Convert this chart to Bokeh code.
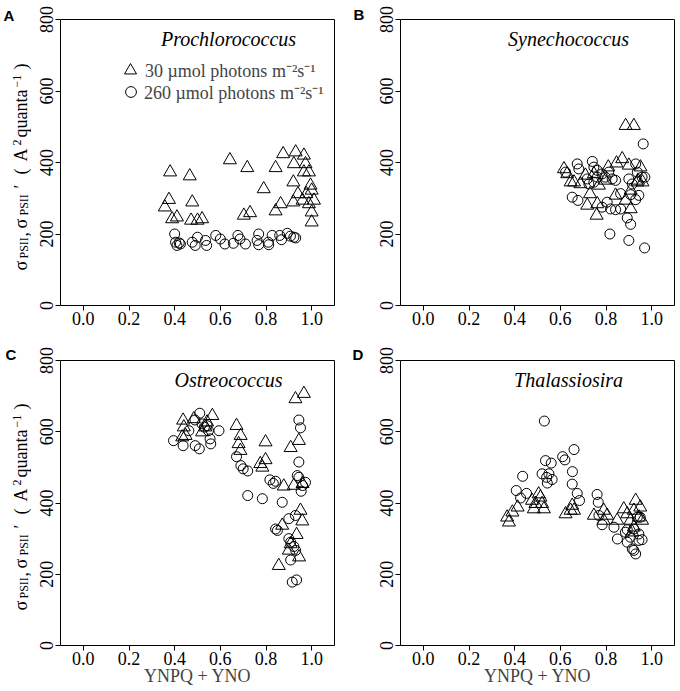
import math
from bokeh.plotting import figure
from bokeh.models import Label, Legend, LegendItem, FixedTicker, NumeralTickFormatter
from bokeh.layouts import gridplot
from bokeh.embed import file_html
from bokeh.resources import INLINE

# ---------------- data ----------------
x_ticks = [0.0, 0.2, 0.4, 0.6, 0.8, 1.0]
y_ticks = [0, 200, 400, 600, 800]
titles = ["Prochlorococcus", "Synechococcus", "Ostreococcus", "Thalassiosira"]
panel_letters = ["A", "B", "C", "D"]
legend_labels = ["30 \u00b5mol photons m\u207b\u00b2s\u207b\u00b9", "260 \u00b5mol photons m\u207b\u00b2s\u207b\u00b9"]
x_label = "YNPQ + YNO"

pro_tri_x = [0.38, 0.375, 0.357, 0.389, 0.41, 0.466, 0.477, 0.472, 0.50, 0.52, 0.642, 0.718, 0.703, 0.73,
             0.79, 0.842, 0.842, 0.864, 0.875, 0.93, 0.922, 0.92, 0.92, 0.94, 0.96, 0.966, 0.973, 0.966,
             0.988, 0.995, 1.0, 0.988, 1.01, 1.0, 1.0, 0.977]
pro_tri_y = [373, 296, 275, 242, 247, 362, 289, 238, 238, 242, 407, 385, 252, 259, 326, 385, 264, 284,
             424, 429, 396, 345, 289, 312, 294, 420, 396, 373, 373, 336, 322, 284, 294, 261, 233, 312]
pro_cir_x = [0.40, 0.404, 0.41, 0.425, 0.42, 0.477, 0.49, 0.50, 0.535, 0.54, 0.58, 0.60, 0.62, 0.657,
             0.677, 0.686, 0.71, 0.768, 0.761, 0.768, 0.81, 0.812, 0.827, 0.86, 0.868, 0.893, 0.907,
             0.922, 0.93]
pro_cir_y = [200, 177, 168, 172, 175, 177, 168, 191, 182, 168, 196, 186, 172, 174, 196, 186, 172, 200,
             182, 170, 177, 170, 196, 196, 184, 202, 194, 191, 189]

syn_tri_x = [0.886, 0.922, 0.616, 0.63, 0.645, 0.66, 0.73, 0.718, 0.759, 0.762, 0.81, 0.747, 0.769,
             0.846, 0.871, 0.90, 0.842, 0.886, 0.908, 0.908, 0.951, 0.937, 0.96, 0.94, 0.688, 0.71, 0.797]
syn_tri_y = [503, 503, 382, 368, 345, 345, 312, 280, 252, 284, 387, 368, 336, 398, 410, 392, 308, 294,
             322, 270, 387, 345, 345, 350, 340, 364, 350]
syn_cir_x = [0.963, 0.674, 0.681, 0.623, 0.74, 0.747, 0.762, 0.783, 0.797, 0.812, 0.827, 0.842, 0.718,
             0.725, 0.652, 0.677, 0.783, 0.805, 0.82, 0.842, 0.864, 0.864, 0.90, 0.915, 0.93, 0.937,
             0.908, 0.944, 0.958, 0.97, 0.93, 0.893, 0.908, 0.817, 0.90, 0.969, 0.762, 0.747]
syn_cir_y = [452, 396, 382, 373, 403, 387, 378, 368, 359, 373, 354, 350, 354, 340, 303, 294, 275, 289,
             270, 268, 270, 313, 354, 340, 396, 373, 310, 308, 359, 359, 296, 245, 227, 200, 182, 161,
             359, 345]

ost_tri_x = [0.966, 0.929, 0.437, 0.44, 0.448, 0.484, 0.535, 0.52, 0.542, 0.565, 0.433, 0.671, 0.68,
             0.689, 0.688, 0.798, 0.798, 0.784, 0.775, 0.908, 0.944, 0.922, 0.878, 0.96, 0.951, 0.959,
             0.934, 0.90, 0.945, 0.856, 0.871, 0.908]
ost_tri_y = [707, 692, 632, 613, 589, 636, 613, 599, 627, 645, 585, 617, 566, 589, 547, 571, 521, 500,
             510, 555, 575, 449, 447, 454, 379, 349, 311, 267, 248, 224, 337, 285]
ost_cir_x = [0.395, 0.437, 0.462, 0.489, 0.49, 0.508, 0.51, 0.52, 0.53, 0.542, 0.548, 0.555, 0.558,
             0.594, 0.671, 0.69, 0.70, 0.72, 0.72, 0.784, 0.817, 0.832, 0.842, 0.871, 0.842, 0.85,
             0.90, 0.90, 0.908, 0.922, 0.93, 0.908, 0.915, 0.934, 0.929, 0.96, 0.944, 0.937, 0.944,
             0.944, 0.951, 0.954, 0.973]
ost_cir_y = [575, 561, 603, 633, 561, 552, 652, 622, 613, 617, 603, 580, 566, 603, 530, 505, 496, 490,
             421, 412, 465, 455, 461, 402, 327, 323, 356, 300, 290, 278, 267, 240, 178, 184, 365, 449,
             472, 477, 515, 633, 611, 433, 458]

tha_tri_x = [0.367, 0.375, 0.39, 0.413, 0.476, 0.491, 0.484, 0.513, 0.52, 0.528, 0.505, 0.623, 0.645,
             0.652, 0.66, 0.747, 0.79, 0.805, 0.79, 0.849, 0.878, 0.893, 0.907, 0.922, 0.915, 0.93, 0.95,
             0.958, 0.922, 0.944]
tha_tri_y = [360, 346, 374, 388, 407, 398, 383, 416, 398, 383, 425, 369, 379, 393, 379, 365, 379, 365,
             351, 351, 383, 369, 351, 332, 318, 407, 388, 351, 379, 360]
tha_cir_x = [0.53, 0.535, 0.56, 0.52, 0.54, 0.55, 0.564, 0.543, 0.435, 0.407, 0.426, 0.452, 0.61, 0.62,
             0.66, 0.653, 0.652, 0.674, 0.684, 0.761, 0.766, 0.783, 0.769, 0.835, 0.85, 0.885, 0.893,
             0.907, 0.922, 0.915, 0.93, 0.922, 0.944, 0.944, 0.958, 0.937, 0.95, 0.893]
tha_cir_y = [630, 519, 512, 482, 472, 482, 466, 456, 475, 435, 414, 427, 530, 521, 550, 488, 453, 427,
             407, 424, 402, 339, 365, 332, 299, 318, 290, 304, 327, 271, 257, 267, 313, 295, 297, 360,
             360, 325]

# ---------------- styling ----------------
SERIF = "Liberation Serif"
SANS = "Liberation Sans"
X0, X1, Y0, Y1 = -0.1, 1.1, 0, 800
FW = 274

# y-axis label pieces: (text, offset along the axis in px from frame bottom, kind)
ylab_pieces = [
    ("\u03c3", 35, "main"),
    ("PSII", 47, "sub"),
    (",", 69, "main"),
    ("\u03c3", 77, "main"),
    ("PSII", 90, "sub"),
    ("\u2032", 117, "main"),
    ("(", 131, "main"),
    ("A", 144, "main"),
    ("2", 160, "sup"),
    ("quanta", 168, "main"),
    ("\u22121", 218, "sup"),
    (")", 236, "main"),
]
# centre line (across the rotated text) of each kind, in px from the strip's left edge
ylab_kind = {"main": (20.5, "18px"), "sub": (23.0, "12px"), "sup": (16.0, "12px")}


def make_strip(w, h, letter, letter_xy, ylab_base=None):
    s = figure(x_range=(0, w), y_range=(0, h), frame_width=w, frame_height=h,
               min_border=0, min_border_left=0, min_border_right=0, min_border_top=0,
               min_border_bottom=0, x_axis_type=None, y_axis_type=None,
               output_backend="svg", toolbar_location=None, tools="")
    s.frame_align = False
    s.outline_line_color = None
    s.background_fill_color = "white"
    s.border_fill_color = "white"
    s.add_layout(Label(x=letter_xy[0], y=letter_xy[1], text=letter, text_font=SANS,
                       text_font_style="bold", text_font_size="15px", text_align="left",
                       text_baseline="middle", text_color="black"))
    if ylab_base is not None:
        for txt, pos, kind in ylab_pieces:
            xx, fs = ylab_kind[kind]
            s.add_layout(Label(x=xx, y=ylab_base + pos, text=txt, angle=math.pi / 2,
                               text_font=SERIF, text_font_size=fs, text_align="left",
                               text_baseline="middle", text_color="black"))
    return s


def make_panel(i, tri_x, tri_y, cir_x, cir_y, fh, ml, mr, mt, mb, show_xlab, show_legend):
    p = figure(x_range=(X0, X1), y_range=(Y0, Y1), frame_width=FW, frame_height=fh,
               min_border_left=ml, min_border_right=mr, min_border_top=mt, min_border_bottom=mb,
               output_backend="svg", toolbar_location=None, tools="")
    p.frame_align = False
    p.grid.visible = False
    p.outline_line_color = "black"
    p.outline_line_width = 1
    p.background_fill_color = "white"
    p.border_fill_color = "white"
    for ax in (p.xaxis[0], p.yaxis[0]):
        ax.axis_line_color = None
        ax.major_tick_in = 0
        ax.major_tick_out = 5
        ax.major_tick_line_color = "black"
        ax.minor_tick_line_color = None
        ax.major_label_text_font = SERIF
        ax.major_label_text_font_size = "18px"
        ax.major_label_text_color = "black"
    p.xaxis.ticker = FixedTicker(ticks=x_ticks)
    p.xaxis.formatter = NumeralTickFormatter(format="0.0")
    p.xaxis.major_label_standoff = 1
    p.yaxis.ticker = FixedTicker(ticks=y_ticks)
    p.yaxis.major_label_orientation = "vertical"
    p.yaxis.major_label_standoff = 3

    if show_xlab:
        p.xaxis.axis_label = x_label
        p.xaxis.axis_label_text_font = SERIF
        p.xaxis.axis_label_text_font_size = "18px"
        p.xaxis.axis_label_text_font_style = "normal"
        p.xaxis.axis_label_standoff = -2

    rt = p.scatter(tri_x, tri_y, marker="triangle", size=13, fill_color=None,
                   line_color="black", line_width=1)
    rc = p.scatter(cir_x, cir_y, marker="circle", size=10, fill_color=None,
                   line_color="black", line_width=1)

    p.add_layout(Label(x=0.636, y=745, text=titles[i], text_font=SERIF, text_font_style="italic",
                       text_font_size="20px", text_align="center", text_baseline="middle",
                       text_color="black"))

    if show_legend:
        common = dict(orientation="vertical", border_line_color=None, background_fill_alpha=0,
                      label_text_font=SERIF, label_text_font_size="18px", label_height=20,
                      label_standoff=0, spacing=0, padding=0, margin=0)
        p.add_layout(Legend(items=[LegendItem(label=legend_labels[0], renderers=[rt])],
                            location=(55, 220), glyph_width=30, glyph_height=30, **common))
        p.add_layout(Legend(items=[LegendItem(label=legend_labels[1], renderers=[rc])],
                            location=(57, 200), glyph_width=27, glyph_height=27, **common))
    return p


TOP_H, BOT_H = 335, 356
sA = make_strip(31, TOP_H, panel_letters[0], (3, 320), ylab_base=30)
pA = make_panel(0, pro_tri_x, pro_tri_y, pro_cir_x, pro_cir_y, 286, 29, 6, 19, 30, False, True)
sB = make_strip(25, TOP_H, panel_letters[1], (13, 321.5))
pB = make_panel(1, syn_tri_x, syn_tri_y, syn_cir_x, syn_cir_y, 286, 35, 6, 19, 30, False, False)
sC = make_strip(31, BOT_H, panel_letters[2], (5, 337.5), ylab_base=46)
pC = make_panel(2, ost_tri_x, ost_tri_y, ost_cir_x, ost_cir_y, 285, 29, 6, 25, 46, True, False)
sD = make_strip(25, BOT_H, panel_letters[3], (12, 337.5))
pD = make_panel(3, tha_tri_x, tha_tri_y, tha_cir_x, tha_cir_y, 285, 35, 6, 25, 46, True, False)

grid = gridplot([[sA, pA, sB, pB], [sC, pC, sD, pD]], toolbar_location=None)

open("out.html", "w").write(file_html(grid, INLINE))
